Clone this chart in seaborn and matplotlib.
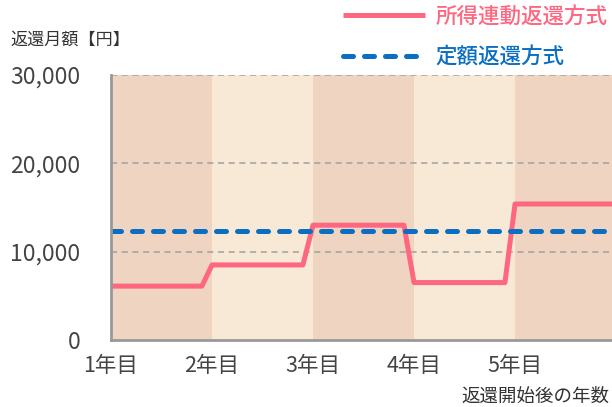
import matplotlib
matplotlib.use("Agg")
import matplotlib.pyplot as plt
import seaborn as sns
import pandas as pd

# ---- data ----
years = [1, 2, 3, 4, 5]
year_labels = ["1年目", "2年目", "3年目", "4年目", "5年目"]
income_linked = [6100, 8500, 13000, 6500, 15400]   # 所得連動返還方式
fixed_amount = [12300, 12300, 12300, 12300, 12300]  # 定額返還方式
y_ticks = [0, 10000, 20000, 30000]
y_tick_labels = ["0", "10,000", "20,000", "30,000"]
series_names = ["所得連動返還方式", "定額返還方式"]

PINK = "#ff6680"
BLUE = "#0a6fc2"
BAND_DARK = "#eed4c1"
BAND_LIGHT = "#f8e9d7"
GRID = "#a0a0a0"
TEXT = "#444444"

sns.set_theme(style="white")
plt.rcParams["font.family"] = ["Noto Sans CJK JP", "DejaVu Sans"]

RAMP = 0.1
X_END = 6.0


def step_points(vals, ramp):
    xs, ys = [], []
    for i, (yr, v) in enumerate(zip(years, vals)):
        xs.append(yr)
        ys.append(v)
        end = years[i + 1] - ramp if i + 1 < len(years) else X_END
        xs.append(end)
        ys.append(v)
    return xs, ys


xi, yi = step_points(income_linked, RAMP)
xf, yf = step_points(fixed_amount, 0.0)
df_i = pd.DataFrame({"x": xi, "y": yi, "s": series_names[0]})
df_f = pd.DataFrame({"x": xf, "y": yf, "s": series_names[1]})

fig = plt.figure(figsize=(6.12, 4.07), dpi=100)
ax = fig.add_axes([111 / 612, 67 / 407, 501 / 612, 265 / 407])

# alternating background bands
for i, yr in enumerate(years):
    ax.axvspan(yr, yr + 1, color=BAND_DARK if i % 2 == 0 else BAND_LIGHT,
               lw=0, zorder=0)

for yv in y_ticks[1:]:
    ax.axhline(yv, color=GRID, lw=1.1, ls=(0, (4, 3)), zorder=1)

sns.lineplot(data=df_i, x="x", y="y", ax=ax, color=PINK, lw=3.6,
             sort=False, estimator=None, label=series_names[0], zorder=3)
sns.lineplot(data=df_f, x="x", y="y", ax=ax, color=BLUE, lw=3.6,
             sort=False, estimator=None, label=series_names[1], zorder=4)
l_i, l_f = ax.get_lines()[-2:]
l_i.set_solid_joinstyle("round")
l_i.set_solid_capstyle("butt")
l_f.set_linestyle((0, (2.0, 2.2)))
l_f.set_dash_capstyle("round")

ax.set_xlim(1, 5.96)
ax.set_ylim(0, 30000)
ax.set_xticks(years)
ax.set_xticklabels(year_labels)
ax.set_yticks(y_ticks)
ax.set_yticklabels(y_tick_labels)
ax.tick_params(axis="y", length=0, pad=22, labelsize=16.5, labelcolor=TEXT)
ax.tick_params(axis="x", length=0, pad=11, labelsize=15.5, labelcolor=TEXT)
ax.set_xlabel("")
ax.set_ylabel("")

for side in ["top", "right"]:
    ax.spines[side].set_visible(False)
for side in ["left", "bottom"]:
    ax.spines[side].set_color("#999999")
    ax.spines[side].set_linewidth(2)
    ax.spines[side].set_zorder(5)

leg = ax.legend(loc="upper left", bbox_to_anchor=(343 / 612, 1 - 6 / 407),
                bbox_transform=fig.transFigure, frameon=False, fontsize=15.5,
                handlelength=3.8, handletextpad=0.5, labelspacing=0.85,
                borderpad=0, borderaxespad=0,
                labelcolor=[PINK, BLUE])
for t in leg.get_texts():
    t.set_fontweight("medium")

fig.text(10 / 612, 1 - 40 / 407, "返還月額【円】", fontsize=12.3, color="#333333",
         ha="left", va="center")
fig.text(609 / 612, 1 - 397 / 407, "返還開始後の年数", fontsize=13.3, color="#333333",
         ha="right", va="center")

fig.savefig("out.png", dpi=100)
